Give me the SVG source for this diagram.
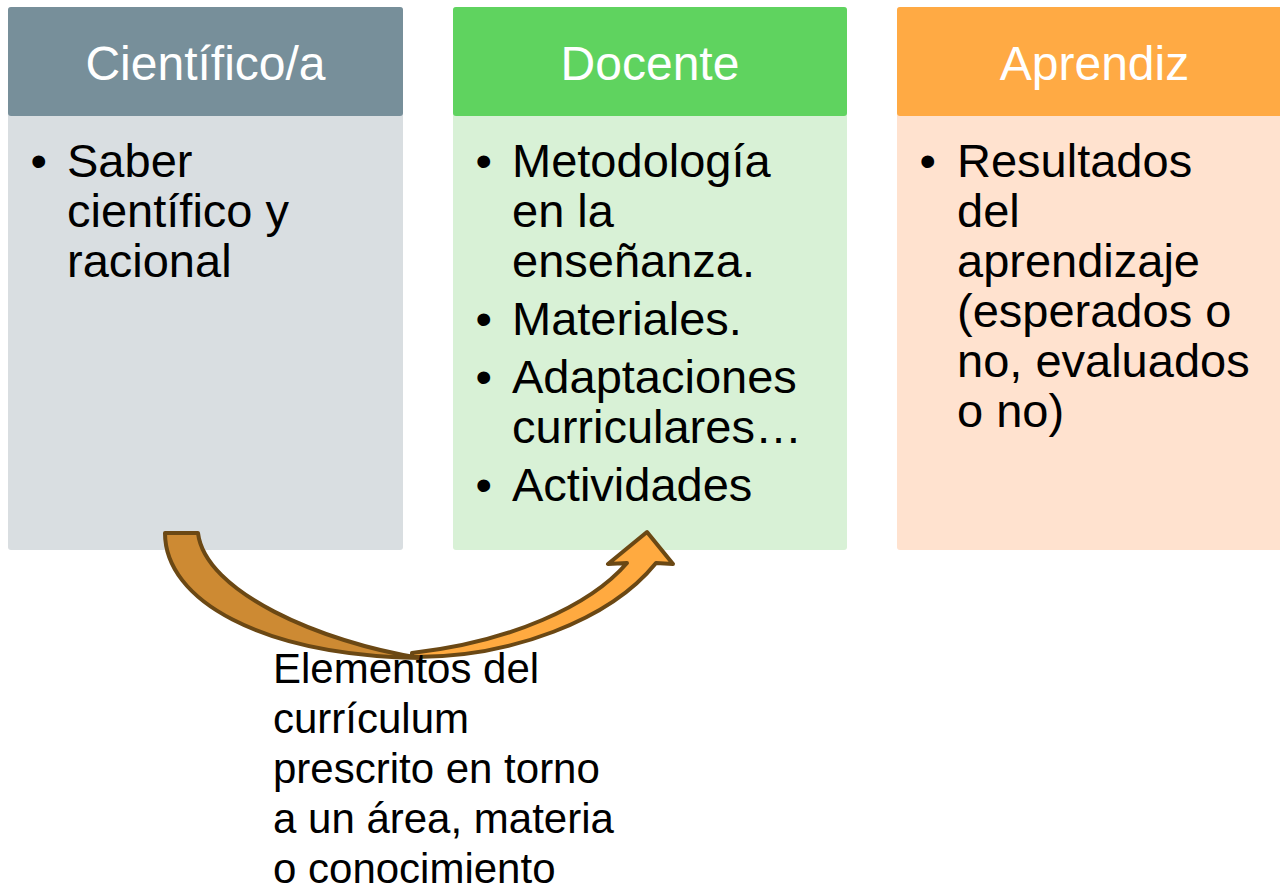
<svg xmlns="http://www.w3.org/2000/svg" width="1280" height="891" viewBox="0 0 1280 891">
<style>
.hd{font-family:"Liberation Sans",Arial,sans-serif;font-size:48px;fill:#ffffff;text-anchor:middle}
.bd{font-family:"Liberation Sans",Arial,sans-serif;font-size:47px;fill:#000000}
.lb{font-family:"Liberation Sans",Arial,sans-serif;font-size:42px;fill:#000000}
.arr{stroke:#6B4814;stroke-width:4;stroke-linejoin:round}
</style>
<rect width="1280" height="891" fill="#ffffff"/>
<g id="cientifico">
<rect x="8" y="7" width="395" height="543" rx="3" fill="#D9DEE1"/>
<rect x="8" y="7" width="395" height="109" rx="3" fill="#778F9A"/>
<text class="hd" x="205.5" y="80">Científico/a</text>
<text class="bd" x="30.5" y="177">•</text>
<text class="bd" x="67" y="177">Saber</text>
<text class="bd" x="67" y="227">científico y</text>
<text class="bd" x="67" y="277">racional</text>
</g>
<g id="docente">
<rect x="453" y="7" width="394" height="543" rx="3" fill="#D8F1D6"/>
<rect x="453" y="7" width="394" height="109" rx="3" fill="#5FD35F"/>
<text class="hd" x="650" y="80">Docente</text>
<text class="bd" x="475.5" y="177">•</text>
<text class="bd" x="512" y="177">Metodología</text>
<text class="bd" x="512" y="227">en la</text>
<text class="bd" x="512" y="277">enseñanza.</text>
<text class="bd" x="475.5" y="335">•</text>
<text class="bd" x="512" y="335">Materiales.</text>
<text class="bd" x="475.5" y="393">•</text>
<text class="bd" x="512" y="393">Adaptaciones</text>
<text class="bd" x="512" y="443">curriculares…</text>
<text class="bd" x="475.5" y="501">•</text>
<text class="bd" x="512" y="501">Actividades</text>
</g>
<g id="aprendiz">
<rect x="897" y="7" width="395" height="543" rx="3" fill="#FFE2CF"/>
<rect x="897" y="7" width="395" height="109" rx="3" fill="#FFAA44"/>
<text class="hd" x="1094.5" y="80">Aprendiz</text>
<text class="bd" x="919.5" y="177">•</text>
<text class="bd" x="957" y="177">Resultados</text>
<text class="bd" x="957" y="227">del</text>
<text class="bd" x="957" y="277">aprendizaje</text>
<text class="bd" x="957" y="327">(esperados o</text>
<text class="bd" x="957" y="377">no, evaluados</text>
<text class="bd" x="957" y="427">o no)</text>
</g>
<g id="connectors">
<path class="arr" fill="#FFAA40" d="M412,657 C510,658 610,620 656,563 L673,564 L647,532 L608,564 L627,563 C590,606 510,642 412,653 Z"/>
<path class="arr" fill="#CD8A33" d="M165,533 C165,600 260,655 420,658 C320,642 205,592 198,533 Z"/>
</g>
<g id="label">
<text class="lb" x="273" y="683">Elementos del</text>
<text class="lb" x="273" y="733">currículum</text>
<text class="lb" x="273" y="783">prescrito en torno</text>
<text class="lb" x="273" y="833">a un área, materia</text>
<text class="lb" x="273" y="883">o conocimiento</text>
</g>
</svg>
